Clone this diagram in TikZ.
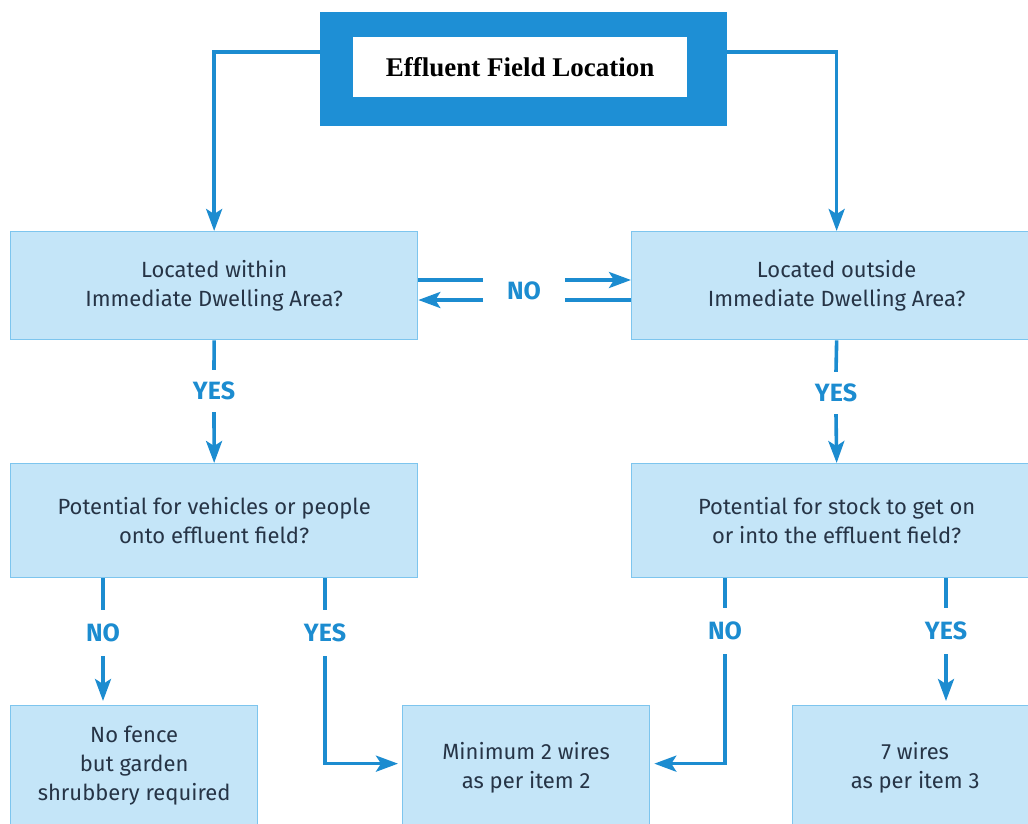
\documentclass[tikz,border=0pt]{standalone}
\usepackage{fontspec}
\setmainfont{Liberation Serif}
\newfontfamily\boxfont{Fira Sans}
\usetikzlibrary{arrows.meta}

\definecolor{flowblue}{RGB}{28,140,208}
\definecolor{headblue}{RGB}{30,143,213}
\definecolor{boxfill}{RGB}{196,229,248}
\definecolor{boxedge}{RGB}{125,197,238}
\definecolor{boxtext}{RGB}{38,52,70}

\begin{document}
\begin{tikzpicture}[x=1pt,y=-1pt,
  question/.style={draw=boxedge, line width=1.3pt, fill=boxfill,
    anchor=north west, inner sep=0pt, align=center, text=boxtext,
    font=\boxfont\fontsize{22}{29}\selectfont},
  answer/.style={font=\boxfont\bfseries\fontsize{25}{28}\selectfont,
    text=flowblue, inner sep=0pt, minimum width=40pt},
  flow/.style={draw=flowblue, line width=3.6pt},
  flowarrow/.style={flow, -{Stealth[length=22pt,width=16pt,inset=5pt]}}]

\useasboundingbox (0,0) rectangle (1028,824);
\clip (0,0) rectangle (1028,824);

% heading
\node[anchor=north west, fill=headblue, minimum width=407pt, minimum height=114pt, inner sep=0pt]
  (head) at (320,12) {};
\node[anchor=north west, fill=white, minimum width=334pt, minimum height=60pt, inner sep=0pt,
  font=\bfseries\fontsize{27}{32}\selectfont] (title) at (353,37) {Effluent Field Location};

% decision boxes
\node[question, minimum width=407pt, minimum height=108pt] (within) at (10,231)
  {Located within\\Immediate Dwelling Area?};
\node[question, minimum width=410pt, minimum height=108pt] (outside) at (631,231)
  {Located outside\\Immediate Dwelling Area?};
\node[question, minimum width=407pt, minimum height=114pt] (vehicles) at (10,463)
  {Potential for vehicles or people\\onto effluent field?};
\node[question, minimum width=410pt, minimum height=114pt] (stock) at (631,463)
  {Potential for stock to get on\\or into the effluent field?};

% outcome boxes
\node[question, minimum width=247pt, minimum height=120pt] (nofence) at (10,705)
  {No fence\\but garden\\shrubbery required};
\node[question, minimum width=247pt, minimum height=124pt] (twowires) at (402,705)
  {Minimum 2 wires\\as per item 2};
\node[question, minimum width=245pt, minimum height=124pt] (sevenwires) at (792,705)
  {7 wires\\as per item 3};

% answer labels
\node[answer, minimum height=42pt] (yesA) at (214,391) {YES};
\node[answer, minimum height=42pt] (yesB) at (836,393) {YES};
\node[answer, minimum height=46pt] (noC) at (103,633) {NO};
\node[answer, minimum height=46pt] (yesC) at (325,633) {YES};
\node[answer, minimum height=46pt] (noD) at (725,631) {NO};
\node[answer, minimum height=46pt] (yesD) at (946,631) {YES};
\node[answer] (noMid) at (524,291) {NO};

% ends of the NO links between the first two questions
\coordinate (noLt) at (483,280);
\coordinate (noLb) at (483,300);
\coordinate (noRt) at (565,280);
\coordinate (noRb) at (565,300);

% heading to first questions
\draw[flowarrow] ([yshift=-40pt]head.north west) -| (within.north);
\draw[flowarrow] ([yshift=-40pt]head.north east) -| (outside.north);

% NO links
\draw[flow] (noLt -| within.east) -- (noLt);
\draw[flowarrow] (noLb) -- (noLb -| within.east);
\draw[flowarrow] (noRt) -- (noRt -| outside.west);
\draw[flow] (noRb -| outside.west) -- (noRb);

% YES down to second questions
\draw[flow] (within.south) -- (yesA.north);
\draw[flowarrow] (yesA.south) -- (vehicles.north);
\draw[flow] (outside.south) -- (yesB.north);
\draw[flowarrow] (yesB.south) -- (stock.north);

% vehicles question branches
\draw[flow] (noC.north |- vehicles.south) -- (noC.north);
\draw[flowarrow, shorten >=4pt] (noC.south) -- (noC.south |- nofence.north);
\draw[flow] (yesC.north |- vehicles.south) -- (yesC.north);
\draw[flowarrow, shorten >=4pt] (yesC.south) |- ([yshift=4pt]twowires.west);

% stock question branches
\draw[flow] (noD.north |- stock.south) -- (noD.north);
\draw[flowarrow, shorten >=4pt] (noD.south) |- ([yshift=4pt]twowires.east);
\draw[flow] (yesD.north |- stock.south) -- (yesD.north);
\draw[flowarrow, shorten >=4pt] (yesD.south) -- (yesD.south |- sevenwires.north);
\end{tikzpicture}
\end{document}
